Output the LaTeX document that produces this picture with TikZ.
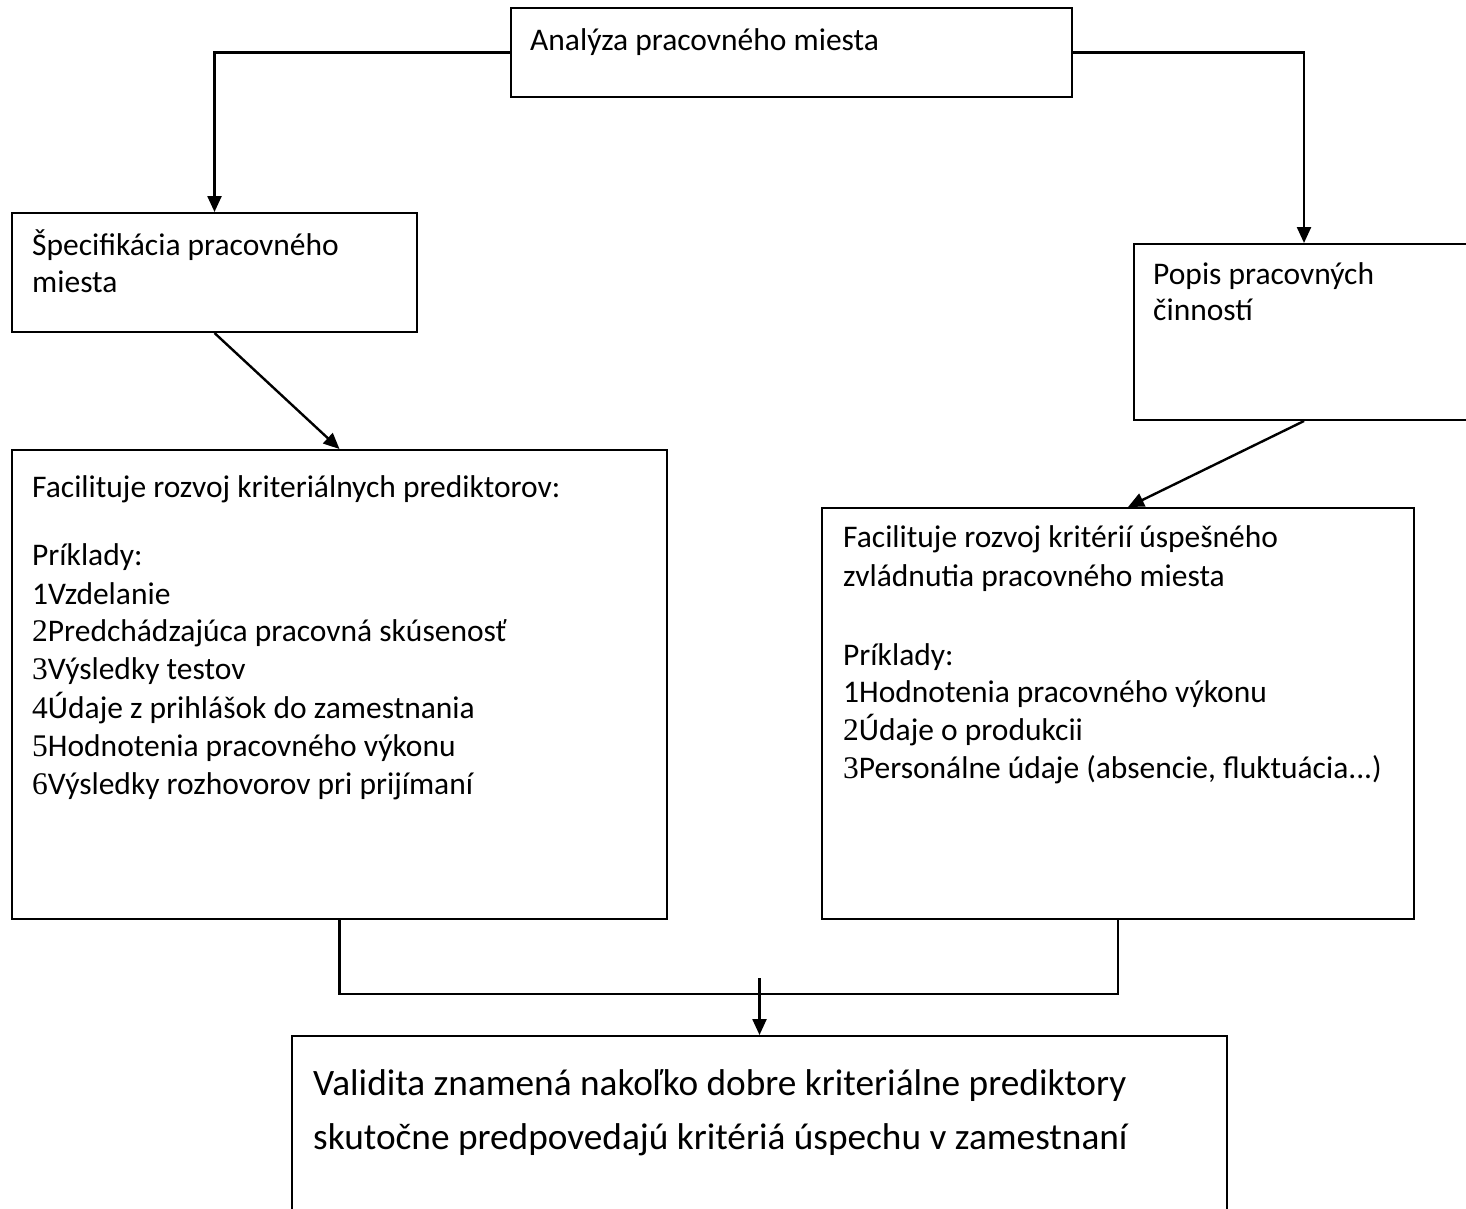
\documentclass[tikz,border=0pt]{standalone}
\usepackage{fontspec}
\setmainfont{Carlito}
\newfontfamily\numfont{Liberation Serif}
\usetikzlibrary{arrows.meta,calc}
\begin{document}
\begin{tikzpicture}[x=1pt,y=-1pt,
  box/.style={draw=black,line width=2pt,rectangle,anchor=north west,inner sep=0pt},
  txt/.style={anchor=base west,inner sep=0pt,font=\fontsize{31.5}{36}\selectfont},
  bigtxt/.style={anchor=base west,inner sep=0pt,font=\fontsize{37.3}{44}\selectfont},
  link/.style={draw=black,line width=2.4pt},
  arr/.style={link,-{Triangle[length=16pt,width=14pt]}}]
\clip (0,0) rectangle (1466,1208);
\fill[white] (0,0) rectangle (1466,1208);

% boxes
\node[box,minimum width=561pt,minimum height=89pt]  (anal)  at (510,7)    {};
\node[box,minimum width=405pt,minimum height=119pt] (spec)  at (11,212)   {};
\node[box,minimum width=340pt,minimum height=176pt] (popis) at (1133,243) {};
\node[box,minimum width=655pt,minimum height=469pt] (pred)  at (11,449)   {};
\node[box,minimum width=592pt,minimum height=411pt] (krit)  at (821,507)  {};
\node[box,minimum width=935pt,minimum height=200pt] (valid) at (291,1035) {};

% texts
\node[txt] (tAnal) at (530,50) {Analýza pracovného miesta};
\node[txt] (tSpec1) at (32,255) {Špecifikácia pracovného};
\node[txt] (tSpec2) at (32,292) {miesta};
\node[txt] (tPop1) at (1153,284) {Popis pracovných};
\node[txt] (tPop2) at (1153,320) {činností};

\node[txt] (tPr0) at (32,497) {Facilituje rozvoj kriteriálnych prediktorov:};
\node[txt] (tPr1) at (32,565) {Príklady:};
\node[txt] (tPr2) at (32,604) {1Vzdelanie};
\node[txt] (tPr3) at (32,641) {{\numfont 2}Predchádzajúca pracovná skúsenosť};
\node[txt] (tPr4) at (32,679) {{\numfont 3}Výsledky testov};
\node[txt] (tPr5) at (32,718) {{\numfont 4}Údaje z prihlášok do zamestnania};
\node[txt] (tPr6) at (32,756) {{\numfont 5}Hodnotenia pracovného výkonu};
\node[txt] (tPr7) at (32,794) {{\numfont 6}Výsledky rozhovorov pri prijímaní};

\node[txt] (tKr0) at (843,547) {Facilituje rozvoj kritérií úspešného};
\node[txt] (tKr1) at (843,586) {zvládnutia pracovného miesta};
\node[txt] (tKr2) at (843,665) {Príklady:};
\node[txt] (tKr3) at (843,702) {1Hodnotenia pracovného výkonu};
\node[txt] (tKr4) at (843,740) {{\numfont 2}Údaje o produkcii};
\node[txt] (tKr5) at (843,778) {{\numfont 3}Personálne údaje (absencie, fluktuácia...)};

\node[bigtxt] (tVal1) at (313,1095) {Validita znamená nakoľko dobre kriteriálne prediktory};
\node[bigtxt] (tVal2) at (313,1149) {skutočne predpovedajú kritériá úspechu v zamestnaní};

% connectors
\draw[arr] (anal.west) -| (spec.north);
\draw[arr] (anal.east) -| (popis.north);
\draw[arr] (spec.south) -- (pred.north);
\draw[arr] (popis.south) -- ($(krit.north)+(10,0)$);
\draw[link] (pred.south) -- ++(0,74) -| (krit.south);
\coordinate (join) at ($(valid.north)+(0,-57)$);
\draw[arr] (join) -- (valid.north);
\end{tikzpicture}
\end{document}
